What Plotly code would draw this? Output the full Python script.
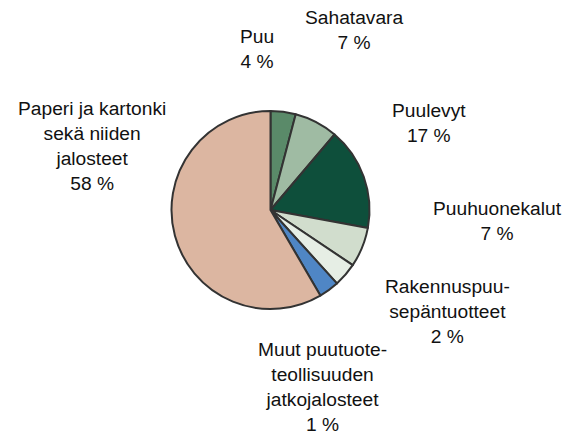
import plotly.graph_objects as go

# Categories (display labels, with line breaks as in the reference)
categories = [
    "Puu",
    "Sahatavara",
    "Puulevyt",
    "Puuhuonekalut",
    "Rakennuspuu-<br>sepäntuotteet",
    "Muut puutuote-<br>teollisuuden<br>jatkojalosteet",
    "Paperi ja kartonki<br>sekä niiden<br>jalosteet",
]
# Slice sizes as drawn in the picture (share, %)
slice_values = [4.1, 7.1, 16.7, 6.5, 3.9, 3.3, 58.4]
# Percent labels as printed in the picture
pct_labels = ["4 %", "7 %", "17 %", "7 %", "2 %", "1 %", "58 %"]
colors = ["#5a8a69", "#9fbba3", "#0e4f3b", "#d1ddcd", "#e6eee5", "#4f86c5", "#dcb6a1"]

# Label anchor positions (pixel centres in a 580x438 canvas)
label_px = [(257, 49), (354, 30), (429, 123), (497, 221), (447, 311), (322, 387), (92, 146)]

W, H = 580, 438
fig = go.Figure(go.Pie(
    labels=[c.replace("<br>", " ") for c in categories],
    values=slice_values,
    sort=False,
    direction="clockwise",
    rotation=0,
    textinfo="none",
    hoverinfo="label+percent",
    marker=dict(colors=colors, line=dict(color="#333333", width=2)),
    domain=dict(x=[171.5 / W, 369.5 / W], y=[1 - 309 / H, 1 - 111 / H]),
    showlegend=False,
))

for cat, pct, (px, py) in zip(categories, pct_labels, label_px):
    fig.add_annotation(
        x=px / W, y=1 - py / H, xref="paper", yref="paper",
        text=f"{cat}<br>{pct}", showarrow=False,
        xanchor="center", yanchor="middle", align="center",
        font=dict(family="Liberation Sans, Arial, sans-serif", size=19.2, color="#111111"),
    )

fig.update_layout(
    width=W, height=H,
    margin=dict(l=0, r=0, t=0, b=0),
    paper_bgcolor="white", plot_bgcolor="white",
)
fig.write_html(
    "out.html",
    config={"displayModeBar": False},
    post_script="document.body.style.margin='0';document.body.style.overflow='hidden';",
)
